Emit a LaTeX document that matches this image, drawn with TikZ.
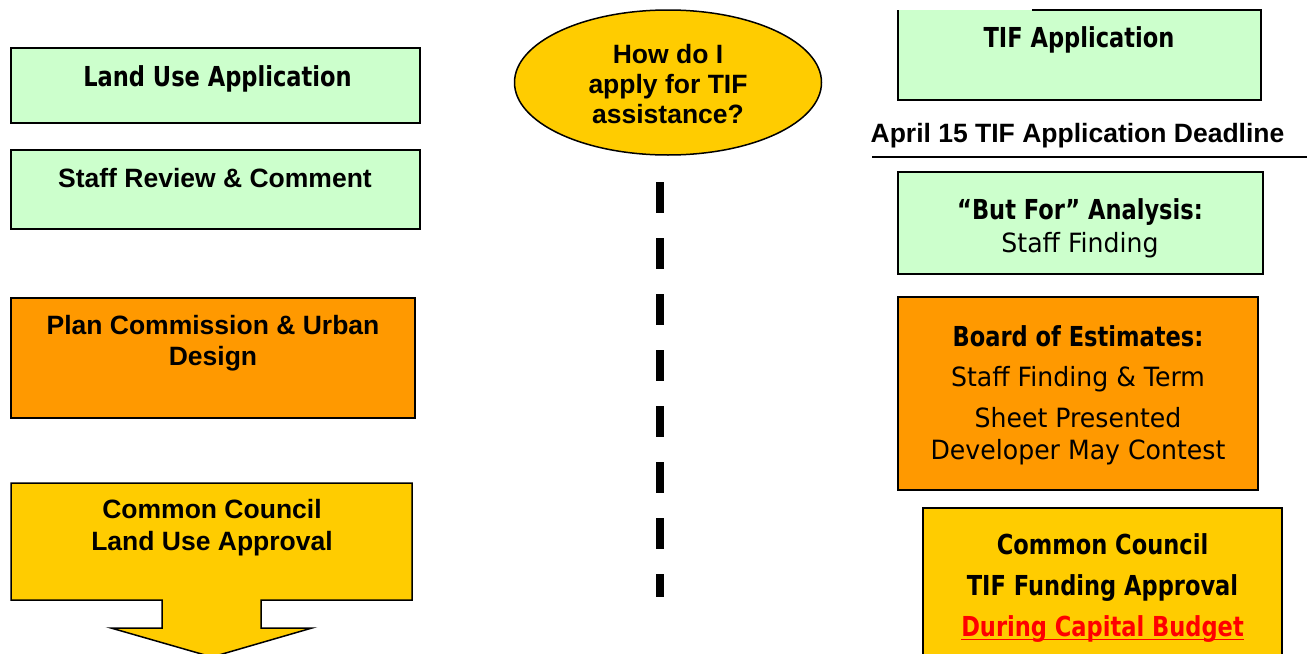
\documentclass[tikz,border=0pt]{standalone}
\usepackage{fontspec}
\setmainfont{Liberation Sans}
\newfontfamily\lucida[FakeStretch=0.95,BoldFeatures={FakeStretch=0.82}]{DejaVu Sans}
\usetikzlibrary{shapes.geometric}

\definecolor{tifgreen}{HTML}{CCFFCC}
\definecolor{tiforange}{HTML}{FF9900}
\definecolor{tifyellow}{HTML}{FFCC00}
\definecolor{tifred}{HTML}{FF0000}

% bold heading words, a bit larger than the plain lines
\newcommand{\lucbf}[1]{{\fontsize{27.5}{33}\selectfont\bfseries#1}}
% underlined text, rule just under the baseline
\newcommand{\budgetline}[1]{\leavevmode\setbox0\hbox{#1}\rlap{\usebox0}\rule[-4pt]{\wd0}{1.6pt}}

\tikzset{
  stepbox/.style={draw, line width=1.5pt, inner sep=0pt},
  arialtext/.style={font=\fontsize{26.5}{30}\selectfont\bfseries, align=center, inner sep=0pt},
  lucidatext/.style={font=\fontsize{26.5}{33}\selectfont\lucida, align=center, inner sep=0pt},
}

\begin{document}
\begin{tikzpicture}[x=1pt,y=-1pt]
\clip (0,0) rectangle (1311,653);

% land use side
\node[stepbox, fill=tifgreen, minimum width=409, minimum height=75] (landuse) at (215.5,85.5) {};
\node[lucidatext] (landusetxt) at (217.5,79) {\lucbf{Land Use Application}};

\node[stepbox, fill=tifgreen, minimum width=409, minimum height=79] (review) at (215.5,189.5) {};
\node[arialtext] (reviewtxt) at (215,178) {Staff Review \& Comment};

\node[stepbox, fill=tiforange, minimum width=404, minimum height=120] (plancomm) at (213,358) {};
\node[arialtext, font=\fontsize{26.5}{31}\selectfont\bfseries] (plancommtxt) at (213,343.5) {Plan Commission \& Urban\\Design};

\draw[line width=1.5pt, fill=tifyellow] (11,483) -- (412,483) -- (412,600) -- (261,600) -- (261,628) -- (312,628)
  -- (212,657) -- (111,628) -- (162,628) -- (162,600) -- (11,600) -- cycle;
\node[arialtext, font=\fontsize{26.5}{32}\selectfont\bfseries] (landapprovaltxt) at (212,528) {Common Council\\Land Use Approval};

% question and divider
\node[ellipse, draw, line width=1.5pt, fill=tifyellow, minimum width=307, minimum height=145, inner sep=0pt,
  arialtext] (question) at (668,82.5) {};
\node[arialtext] (questiontxt) at (668,84) {How do I\\apply for TIF\\assistance?};

\coordinate (divtop) at (660,182);
\coordinate (divbot) at (660,597);
\draw[line width=8pt, dash pattern=on 31pt off 25pt] (divtop) -- (divbot);

% TIF side
\node[fill=tifgreen, minimum width=363, minimum height=90, inner sep=0pt] (tifapp) at (1079.5,55) {};
\draw[line width=1.5pt] ([xshift=134pt]tifapp.north west) -- (tifapp.north east) -- (tifapp.south east)
  -- (tifapp.south west) -- (tifapp.north west);
\node[lucidatext] (tifapptxt) at (1079,40) {\lucbf{TIF Application}};

\node[arialtext] (deadline) at (1077.5,135.5) {April 15 TIF Application Deadline};
\coordinate (rulel) at (872,157);
\coordinate (ruler) at (1307,157);
\draw[line width=1.5pt] (rulel) -- (ruler);

\node[stepbox, fill=tifgreen, minimum width=365, minimum height=102] (butfor) at (1080.5,223) {};
\node[lucidatext] (butfortxt) at (1080,228.5) {\lucbf{“But For” Analysis:}\\Staff Finding};

\node[stepbox, fill=tiforange, minimum width=360, minimum height=193] (estimates) at (1078,393.5) {};
\node[lucidatext, font=\fontsize{26.5}{32}\selectfont\lucida] (estimatestxt) at (1078,395)
  {\lucbf{Board of Estimates:}\\[8pt]Staff Finding \& Term\\[9pt]Sheet Presented\\Developer May Contest};

\node[stepbox, fill=tifyellow, minimum width=359, minimum height=192] (funding) at (1102.5,604) {};
\node[lucidatext, font=\fontsize{26.5}{41}\selectfont\lucida] (fundingtxt) at (1102.5,588)
  {\lucbf{Common Council}\\\lucbf{TIF Funding Approval}\\\textcolor{tifred}{\budgetline{\lucbf{During Capital Budget}}}};
\end{tikzpicture}
\end{document}
